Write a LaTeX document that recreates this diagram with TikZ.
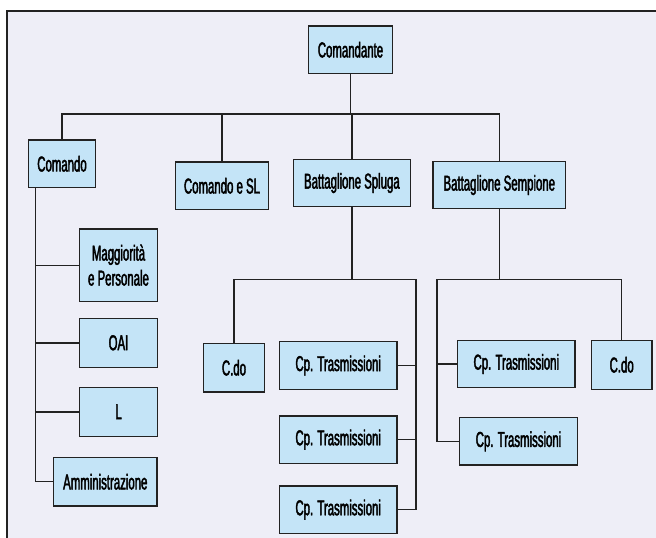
\documentclass[tikz,border=0pt]{standalone}
\usepackage{fontspec}
\setmainfont{Liberation Sans}[FakeStretch=0.53, FakeBold=2]
\definecolor{bgc}{RGB}{238,238,247}
\definecolor{boxc}{RGB}{196,228,247}
\definecolor{linec}{RGB}{34,34,34}
\begin{document}
\begin{tikzpicture}[x=1pt,y=-1pt,
  box/.style={draw=linec, fill=boxc, line width=1.4pt, inner sep=0pt,
    align=center, font=\fontsize{21.5}{25}\selectfont, minimum height=47.5},
  conn/.style={draw=linec, line width=1.4pt},
  frameline/.style={draw=linec, line width=1.8pt}]
\useasboundingbox (0,0) rectangle (656,538);
\fill[bgc] (7,11) rectangle (656,538);
\draw[frameline] (656,11) -- (7,11) -- (7,538);

\node[box, minimum width=84] (cmdt) at (350.5,49.7) {Comandante};
\node[box, minimum width=67] (comando) at (62,163.8) {Comando};
\node[box, minimum width=92.5] (cesl) at (222,185.8) {Comando e SL};
\node[box, minimum width=117] (spluga) at (351.9,183) {Battaglione Spluga};
\node[box, minimum width=132.5] (sempione) at (499.3,185) {Battaglione Sempione};

\node[box, minimum width=78.4, minimum height=72.3] (magg) at (118.5,265.2) {Maggiorità\\e Personale};
\node[box, minimum width=78.4, minimum height=49] (oai) at (118.5,342.8) {OAI};
\node[box, minimum width=78.4, minimum height=49] (l) at (118.5,411.8) {L};
\node[box, minimum width=103.3, minimum height=48.7] (amm) at (105.3,481.7) {Amministrazione};

\node[box, minimum width=60.6, minimum height=48.7] (cdo1) at (234,367.7) {C.do};
\node[box, minimum width=117.7] (cpa) at (338.2,365.5) {Cp. Trasmissioni};
\node[box, minimum width=117.7] (cpb) at (338.2,439.7) {Cp. Trasmissioni};
\node[box, minimum width=117.7] (cpc) at (338.2,509.7) {Cp. Trasmissioni};

\node[box, minimum width=117.3] (cpd) at (516.3,364) {Cp. Trasmissioni};
\node[box, minimum width=117.6] (cpe) at (518.5,441.3) {Cp. Trasmissioni};
\node[box, minimum width=60.7, minimum height=49] (cdo2) at (621.7,364.8) {C.do};

% top level bus
\coordinate (bus) at (0,114);
\draw[conn] (cmdt.south) -- (cmdt.south |- bus);
\draw[conn] (comando.north) -- (comando.north |- bus) -- (sempione.north |- bus) -- (sempione.north);
\draw[conn] (cesl.north) -- (cesl.north |- bus);
\draw[conn] (spluga.north) -- (spluga.north |- bus);

% Comando branch
\coordinate (cl) at (35.7,0);
\draw[conn] (comando.south -| cl) -- (amm.west -| cl) -- (amm.west);
\draw[conn] (magg.west -| cl) -- (magg.west);
\draw[conn] (oai.west -| cl) -- (oai.west);
\draw[conn] (l.west -| cl) -- (l.west);

% Spluga branch
\coordinate (sb) at (416,279.7);
\draw[conn] (spluga.south) -- (spluga.south |- sb);
\draw[conn] (cdo1.north) -- (cdo1.north |- sb) -- (sb) -- (sb |- cpc.east) -- (cpc.east);
\draw[conn] (cpa.east) -- (cpa.east -| sb);
\draw[conn] (cpb.east) -- (cpb.east -| sb);

% Sempione branch
\coordinate (mb) at (437,279.7);
\draw[conn] (sempione.south) -- (sempione.south |- mb);
\draw[conn] (cpe.west) -- (cpe.west -| mb) -- (mb) -- (mb -| cdo2.north) -- (cdo2.north);
\draw[conn] (cpd.west -| mb) -- (cpd.west);
\end{tikzpicture}
\end{document}
